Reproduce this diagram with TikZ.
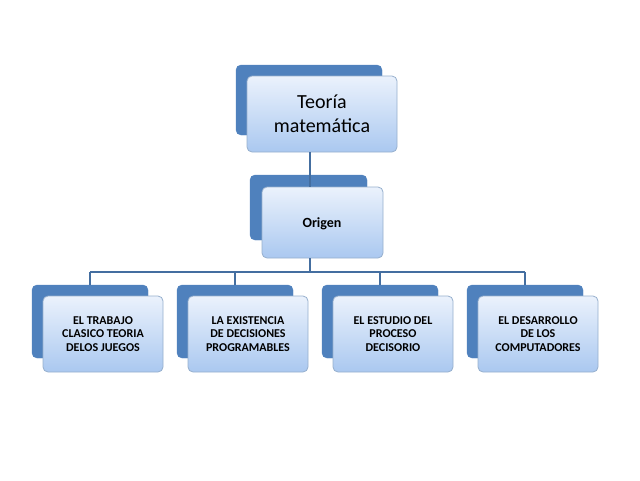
\documentclass[tikz,border=0pt]{standalone}
\usepackage{fontspec}
\setmainfont{Carlito}
\begin{document}
\begin{tikzpicture}[x=1pt,y=-1pt,
 back/.style={fill={rgb,255:red,79;green,129;blue,189},draw={rgb,255:red,79;green,129;blue,189},rounded corners=5pt},
 front/.style={top color={rgb,255:red,235;green,242;blue,252},bottom color={rgb,255:red,170;green,200;blue,240},draw={rgb,255:red,150;green,175;blue,205},rounded corners=5pt,line width=0.8pt},
 lbl/.style={align=center,font=\bfseries\fontsize{12}{13.5}\selectfont,inner sep=0pt},
 conn/.style={draw={rgb,255:red,68;green,110;blue,160},line width=1.2pt}]
\useasboundingbox (0,0) rectangle (640,480);
% top
\path[back] (236,65) rectangle (382,135);
\path[front] (247,76) rectangle (397,152);
\node[align=center,font=\fontsize{20}{24}\selectfont,inner sep=0pt] (top) at (322,114) {Teoría\\matemática};
\coordinate (tb) at (310,152);
% origen
\path[back] (250,175) rectangle (367,240);
\path[front] (262,187) rectangle (383,258);
\node[font=\bfseries\fontsize{14}{16}\selectfont,inner sep=0pt] (orig) at (322,224) {Origen};
\coordinate (ot) at (310,187);
\coordinate (ob) at (310,258);
\coordinate (bar) at (310,272);
\draw[conn] (tb) -- (ot);
\draw[conn] (ob) -- (bar);
\foreach \i/\bx/\t in {1/32/{EL TRABAJO\\CLASICO TEORIA\\DELOS JUEGOS},2/177/{LA EXISTENCIA\\DE DECISIONES\\PROGRAMABLES},3/322/{EL ESTUDIO DEL\\PROCESO\\DECISORIO},4/467/{EL DESARROLLO\\DE LOS\\COMPUTADORES}}{
 \path[back] (\bx,285) rectangle (\bx+116,358);
 \path[front] (\bx+11,296) rectangle (\bx+131,372);
 \node[lbl] (b\i) at (\bx+71,334) {\t};
 \coordinate (d\i) at (\bx+58,272);
 \coordinate (e\i) at (\bx+58,285);
 \draw[conn] (d\i) -- (e\i);
}
\draw[conn] (d1) -- (d4);
\end{tikzpicture}
\end{document}
